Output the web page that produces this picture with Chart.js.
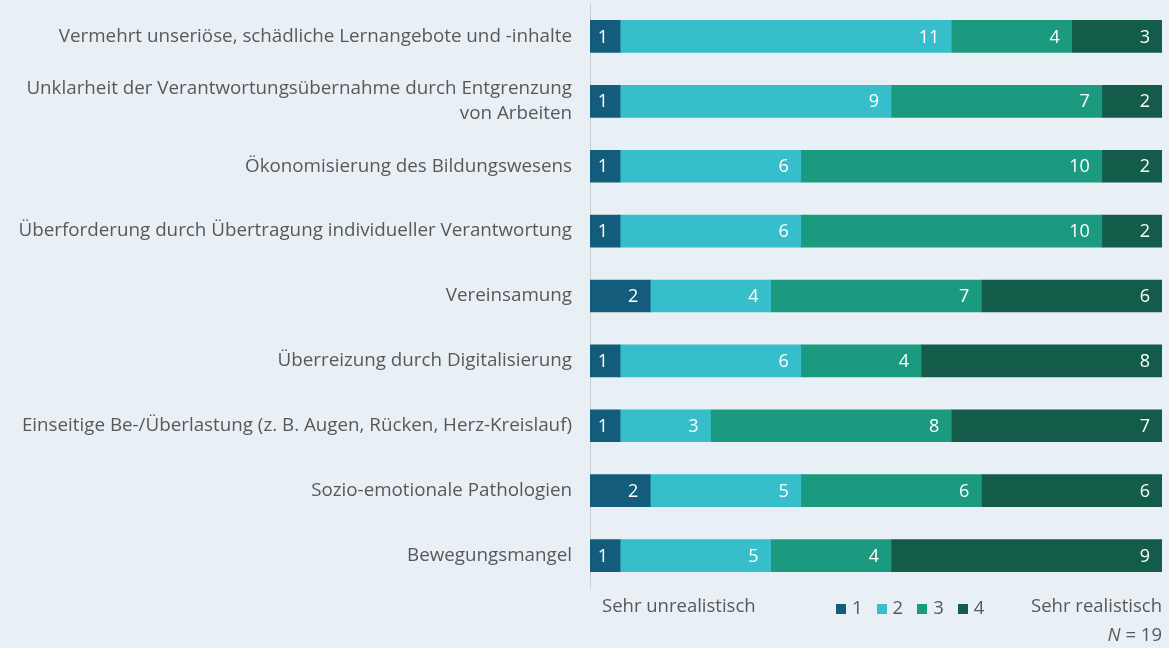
<!DOCTYPE html>
<html>
<head>
<meta charset="utf-8">
<script src="https://cdn.jsdelivr.net/npm/chart.js@4/dist/chart.umd.min.js"></script>
<style>
  html, body { margin: 0; padding: 0; background: #e8eff5; }
  #wrap { position: relative; width: 1169px; height: 648px; font-family: "Open Sans", sans-serif; color: #585858; }
  #chart { position: absolute; left: 0; top: 0; }
  .note { position: absolute; font-size: 18.5px; white-space: nowrap; }
  #legend { position: absolute; left: 836px; top: 594px; font-size: 18.5px; display: flex; gap: 14px; }
  #legend span.sw { display: inline-block; width: 10px; height: 10px; margin-right: 6px; }
</style>
</head>
<body>
<div id="wrap">
  <canvas id="chart" width="1169" height="648"></canvas>
  <div class="note" style="left:602px; top:592px;">Sehr unrealistisch</div>
  <div id="legend"></div>
  <div class="note" style="right:7px; top:592px;">Sehr realistisch</div>
  <div class="note" style="right:7px; top:621px;"><i>N</i> = 19</div>
</div>
<script>
// categories (top to bottom)
const categories = [
    'Vermehrt unseriöse, schädliche Lernangebote und -inhalte',
    ['Unklarheit der Verantwortungsübernahme durch Entgrenzung', 'von Arbeiten'],
    'Ökonomisierung des Bildungswesens',
    'Überforderung durch Übertragung individueller Verantwortung',
    'Vereinsamung',
    'Überreizung durch Digitalisierung',
    'Einseitige Be-/Überlastung (z. B. Augen, Rücken, Herz-Kreislauf)',
    'Sozio-emotionale Pathologien',
    'Bewegungsmangel'
];

const seriesNames = ['1', '2', '3', '4'];
const seriesColors = ['#145c7c', '#36bfcb', '#1b9a7f', '#135c49'];

const values1 = [1, 1, 1, 1, 2, 1, 1, 2, 1];
const values2 = [11, 9, 6, 6, 4, 6, 3, 5, 5];
const values3 = [4, 7, 10, 10, 7, 4, 8, 6, 4];
const values4 = [3, 2, 2, 2, 6, 8, 7, 6, 9];
const allValues = [values1, values2, values3, values4];

const total = 19;

// legend
const legendEl = document.getElementById('legend');
seriesNames.forEach((name, i) => {
    const item = document.createElement('span');
    item.innerHTML = `<span class="sw" style="background:${seriesColors[i]}"></span>${name}`;
    legendEl.appendChild(item);
});

// white value labels, right aligned inside each segment
const valueLabels = {
    id: 'valueLabels',
    afterDatasetsDraw(chart) {
        const ctx = chart.ctx;
        ctx.save();
        ctx.fillStyle = '#ffffff';
        ctx.font = '18px "Open Sans", sans-serif';
        ctx.textAlign = 'right';
        ctx.textBaseline = 'middle';
        chart.data.datasets.forEach((ds, i) => {
            chart.getDatasetMeta(i).data.forEach((bar, j) => {
                ctx.fillText(ds.data[j], bar.x - 12, bar.y + 1);
            });
        });
        ctx.restore();
    }
};

const ctx = document.getElementById('chart').getContext('2d');
const chart = new Chart(ctx, {
    type: 'bar',
    data: {
        labels: categories,
        datasets: seriesNames.map((name, i) => ({
            label: name,
            data: allValues[i],
            backgroundColor: seriesColors[i],
            borderWidth: 0,
            barThickness: 32
        }))
    },
    options: {
        indexAxis: 'y',
        responsive: false,
        animation: false,
        layout: { padding: { top: 4, bottom: 60, right: 7, left: 0 } },
        plugins: {
            legend: { display: false },
            tooltip: { enabled: false }
        },
        scales: {
            x: {
                stacked: true,
                min: 0,
                max: total,
                display: false
            },
            y: {
                stacked: true,
                grid: { display: false, drawTicks: false },
                border: { display: true, color: '#c9ced3', width: 1 },
                ticks: {
                    color: '#585858',
                    padding: 18,
                    font: { family: '"Open Sans", sans-serif', size: 18.8, lineHeight: 1.3 }
                },
                afterFit(scale) {
                    scale.width = 590;
                    scale.paddingTop = 0;
                    scale.paddingBottom = 0;
                }
            }
        }
    },
    plugins: [valueLabels]
});
</script>
</body>
</html>
